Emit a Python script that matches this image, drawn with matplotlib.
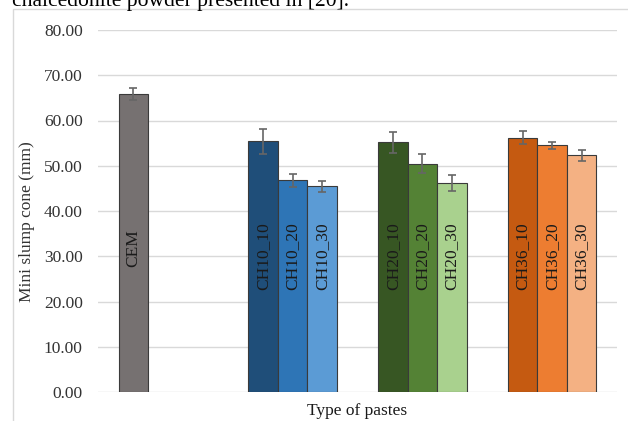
import numpy as np
import matplotlib.pyplot as plt
from matplotlib.patches import Rectangle

plt.rcParams['font.family'] = ['Liberation Serif', 'DejaVu Serif']

# data
labels = ['CEM', 'CH10_10', 'CH10_20', 'CH10_30', 'CH20_10', 'CH20_20', 'CH20_30',
          'CH36_10', 'CH36_20', 'CH36_30']
groups = [0, 1, 1, 1, 2, 2, 2, 3, 3, 3]
slots = [0, 0, 1, 2, 0, 1, 2, 0, 1, 2]
values = [65.8, 55.4, 46.8, 45.5, 55.2, 50.4, 46.2, 56.2, 54.5, 52.3]
errors = [1.3, 2.8, 1.4, 1.2, 2.3, 2.1, 1.8, 1.5, 0.8, 1.2]
colors = ['#767171', '#1F4E79', '#2E75B6', '#5B9BD5', '#375623', '#548235', '#A9D18E',
          '#C55A11', '#ED7D31', '#F4B183']
label_y = [31.8, 30, 30, 30, 30, 30, 30, 30, 30, 30]
yticks = [0, 10, 20, 30, 40, 50, 60, 70, 80]

fig = plt.figure(figsize=(6.28, 4.21), dpi=100)
fig.patches.append(Rectangle((13 / 628, -0.1), 1.0, 1 - 9 / 421 + 0.1,
                             transform=fig.transFigure, fill=False,
                             edgecolor='#d9d9d9', lw=1))
# caption line of the page, cut by the top edge
fig.text(12 / 628, 1 - 6 / 421, 'chalcedonite powder presented in [20].',
         fontsize=15.6, va='baseline', ha='left', color='black')

ax = fig.add_axes([98 / 628, 1 - 392 / 421, (617 - 98) / 628, (392 - 30) / 421])
w = 0.227
x = np.array(groups) + (np.array(slots) - 1) * w
ax.bar(x, values, width=w, color=colors, edgecolor='#3a3a3a', linewidth=0.8, zorder=3)
ax.errorbar(x, values, yerr=errors, fmt='none', ecolor='#666666', elinewidth=1.2,
            capsize=3, capthick=1.2, zorder=4)
for xi, lab, ly in zip(x, labels, label_y):
    ax.text(xi, ly, lab, rotation=90, ha='center', va='center', fontsize=12.5,
            color='#1a1a1a', zorder=5)

ax.set_xlim(-0.5, 3.5)
ax.set_ylim(0, 80)
ax.set_yticks(yticks)
ax.set_yticklabels([f'{t:.2f}' for t in yticks], fontsize=12.5, color='#333333')
ax.set_xticks([])
ax.tick_params(axis='y', length=0, pad=11)
for s in ax.spines.values():
    s.set_visible(False)
ax.grid(axis='y', color='#d9d9d9', lw=1, zorder=0)
ax.set_axisbelow(True)
ax.set_ylabel('Mini slump cone (mm)', fontsize=12.5, color='#333333')
ax.yaxis.set_label_coords(-0.121, 0.47)
ax.set_xlabel('Type of pastes', fontsize=12.5, color='#1a1a1a', labelpad=8)

fig.savefig('out.png', dpi=100)
